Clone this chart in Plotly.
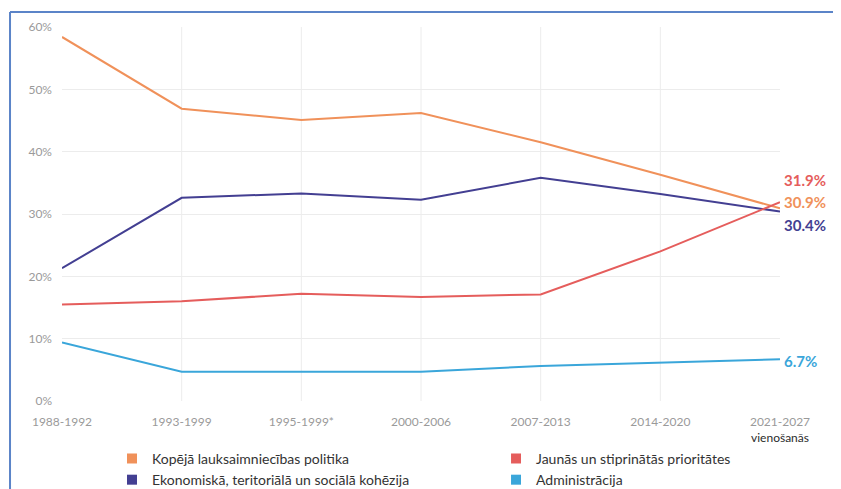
import plotly.graph_objects as go

categories = ["1988-1992", "1993-1999", "1995-1999*", "2000-2006", "2007-2013", "2014-2020", "2021-2027"]
tick_labels = ["1988-1992", "1993-1999", "1995-1999*", "2000-2006", "2007-2013", "2014-2020",
               "2021-2027<br><span style='color:#2b2b2b'>vienošanās</span>"]

names = ["Kopējā lauksaimniecības politika", "Ekonomiskā, teritoriālā un sociālā kohēzija",
         "Jaunās un stiprinātās prioritātes", "Administrācija"]
cap = [58.4, 46.9, 45.1, 46.2, 41.5, 36.3, 30.9]
cohesion = [21.3, 32.6, 33.3, 32.3, 35.8, 33.2, 30.4]
new_prio = [15.5, 16.0, 17.2, 16.7, 17.1, 24.0, 31.9]
admin = [9.4, 4.7, 4.7, 4.7, 5.6, 6.1, 6.7]
y_ticks = [0, 10, 20, 30, 40, 50, 60]

series = [cap, cohesion, new_prio, admin]
colors = ["#F0915A", "#433F92", "#E55D5C", "#3AA6DA"]
end_shift = [-6, 13, -22, 2]
legend_ids = ["legend", "legend", "legend2", "legend2"]

x = list(range(len(categories)))
fig = go.Figure()
for vals, col, nm in zip(series, colors, names):
    fig.add_trace(go.Scatter(x=x, y=vals, mode="lines", line=dict(color=col, width=2),
                             name=nm, showlegend=False, hoverinfo="skip"))
for vals, col, nm, lg in zip(series, colors, names, legend_ids):
    fig.add_trace(go.Scatter(x=[None], y=[None], mode="markers",
                             marker=dict(symbol="square", size=10, color=col),
                             name=nm, legend=lg, showlegend=True))

for vals, col, sh in zip(series, colors, end_shift):
    fig.add_annotation(x=x[-1], y=vals[-1], text=f"<b>{vals[-1]:.1f}%</b>", showarrow=False,
                       xanchor="left", yanchor="middle", xshift=2, yshift=-sh,
                       font=dict(color=col, size=15, family="Lato"))

shapes = []
for i in x[1:-1]:
    shapes.append(dict(type="line", xref="x", yref="paper", x0=i, x1=i, y0=0, y1=1,
                       line=dict(color="#ececec", width=1), layer="below"))
# frame lines (top and left)
shapes.append(dict(type="line", xref="paper", yref="paper", x0=-0.0724, x1=1.2, y0=1.040, y1=1.040,
                   line=dict(color="#5B84C8", width=2)))
shapes.append(dict(type="line", xref="paper", yref="paper", x0=-0.0724, x1=-0.0724, y0=1.040, y1=-0.3,
                   line=dict(color="#5B84C8", width=2)))

fig.update_layout(
    width=833, height=481,
    margin=dict(l=54, r=61, t=19, b=88, autoexpand=False),
    paper_bgcolor="white", plot_bgcolor="white",
    font=dict(family="Lato", size=12, color="#9a9a9a"),
    shapes=shapes,
    legend=dict(x=0.0696, y=-0.112, xanchor="left", yanchor="top", orientation="v",
                font=dict(size=14, color="#333333", family="Lato"), bgcolor="rgba(0,0,0,0)"),
    legend2=dict(x=0.6045, y=-0.112, xanchor="left", yanchor="top", orientation="v",
                 font=dict(size=14, color="#333333", family="Lato"), bgcolor="rgba(0,0,0,0)"),
)
fig.update_xaxes(range=[0, 6], tickmode="array", tickvals=x, ticktext=tick_labels,
                 showgrid=False, zeroline=False, showline=False, ticks="", automargin=False,
                 ticklabelstandoff=12, tickfont=dict(size=12, color="#9a9a9a"))
fig.update_yaxes(range=[0, 60], tickmode="array", tickvals=y_ticks,
                 ticktext=[f"{v}%" for v in y_ticks], showgrid=True, gridcolor="#ececec",
                 zeroline=False, showline=False, ticks="", ticklabelstandoff=9, automargin=False,
                 tickfont=dict(size=12, color="#9a9a9a"))

fig.write_html("out.html")
